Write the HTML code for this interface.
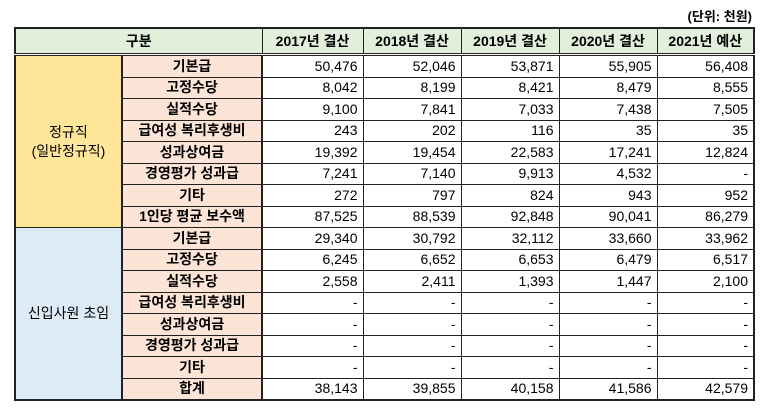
<!DOCTYPE html>
<html><head><meta charset="utf-8"><style>
body{margin:0;width:768px;height:411px;background:#fff;position:relative;font-family:"Liberation Sans","Noto Sans CJK KR",sans-serif;overflow:hidden}
.unit{position:absolute;right:16px;top:6px;font-size:13px;font-weight:bold}
table{position:absolute;left:14px;top:27px;border-collapse:collapse;table-layout:fixed;font-size:14px}
td{border:1px solid #222;padding:0 5px;height:20.5px;line-height:19px;white-space:nowrap;overflow:hidden}
tr.h td{height:24px;background:#e2efda;font-weight:bold;text-align:center;border-bottom:3px double #222}
td.n{text-align:right;background:#fff}
td.l{background:#fce4d6;font-weight:bold;text-align:center;border-left:2px solid #222;border-right:2px solid #222}
td.a{background:#ffe699;text-align:center}
td.b{background:#ddebf7;text-align:center}
table{border:2px solid #222}
</style></head><body>
<div class="unit">(단위: 천원)</div>
<table>
<colgroup><col style="width:107px"><col style="width:140px"><col style="width:101px"><col style="width:98px"><col style="width:98px"><col style="width:98px"><col style="width:97px"></colgroup>
<tr class="h"><td colspan="2">구분</td><td>2017년 결산</td><td>2018년 결산</td><td>2019년 결산</td><td>2020년 결산</td><td>2021년 예산</td></tr>
<tr><td class="a" rowspan="8">정규직<br>(일반정규직)</td><td class="l">기본급</td><td class="n">50,476</td><td class="n">52,046</td><td class="n">53,871</td><td class="n">55,905</td><td class="n">56,408</td></tr>
<tr><td class="l">고정수당</td><td class="n">8,042</td><td class="n">8,199</td><td class="n">8,421</td><td class="n">8,479</td><td class="n">8,555</td></tr>
<tr><td class="l">실적수당</td><td class="n">9,100</td><td class="n">7,841</td><td class="n">7,033</td><td class="n">7,438</td><td class="n">7,505</td></tr>
<tr><td class="l">급여성 복리후생비</td><td class="n">243</td><td class="n">202</td><td class="n">116</td><td class="n">35</td><td class="n">35</td></tr>
<tr><td class="l">성과상여금</td><td class="n">19,392</td><td class="n">19,454</td><td class="n">22,583</td><td class="n">17,241</td><td class="n">12,824</td></tr>
<tr><td class="l">경영평가 성과급</td><td class="n">7,241</td><td class="n">7,140</td><td class="n">9,913</td><td class="n">4,532</td><td class="n">-</td></tr>
<tr><td class="l">기타</td><td class="n">272</td><td class="n">797</td><td class="n">824</td><td class="n">943</td><td class="n">952</td></tr>
<tr><td class="l">1인당 평균 보수액</td><td class="n">87,525</td><td class="n">88,539</td><td class="n">92,848</td><td class="n">90,041</td><td class="n">86,279</td></tr>
<tr><td class="b" rowspan="8">신입사원 초임</td><td class="l">기본급</td><td class="n">29,340</td><td class="n">30,792</td><td class="n">32,112</td><td class="n">33,660</td><td class="n">33,962</td></tr>
<tr><td class="l">고정수당</td><td class="n">6,245</td><td class="n">6,652</td><td class="n">6,653</td><td class="n">6,479</td><td class="n">6,517</td></tr>
<tr><td class="l">실적수당</td><td class="n">2,558</td><td class="n">2,411</td><td class="n">1,393</td><td class="n">1,447</td><td class="n">2,100</td></tr>
<tr><td class="l">급여성 복리후생비</td><td class="n">-</td><td class="n">-</td><td class="n">-</td><td class="n">-</td><td class="n">-</td></tr>
<tr><td class="l">성과상여금</td><td class="n">-</td><td class="n">-</td><td class="n">-</td><td class="n">-</td><td class="n">-</td></tr>
<tr><td class="l">경영평가 성과급</td><td class="n">-</td><td class="n">-</td><td class="n">-</td><td class="n">-</td><td class="n">-</td></tr>
<tr><td class="l">기타</td><td class="n">-</td><td class="n">-</td><td class="n">-</td><td class="n">-</td><td class="n">-</td></tr>
<tr><td class="l">합계</td><td class="n">38,143</td><td class="n">39,855</td><td class="n">40,158</td><td class="n">41,586</td><td class="n">42,579</td></tr>
</table>
</body></html>
